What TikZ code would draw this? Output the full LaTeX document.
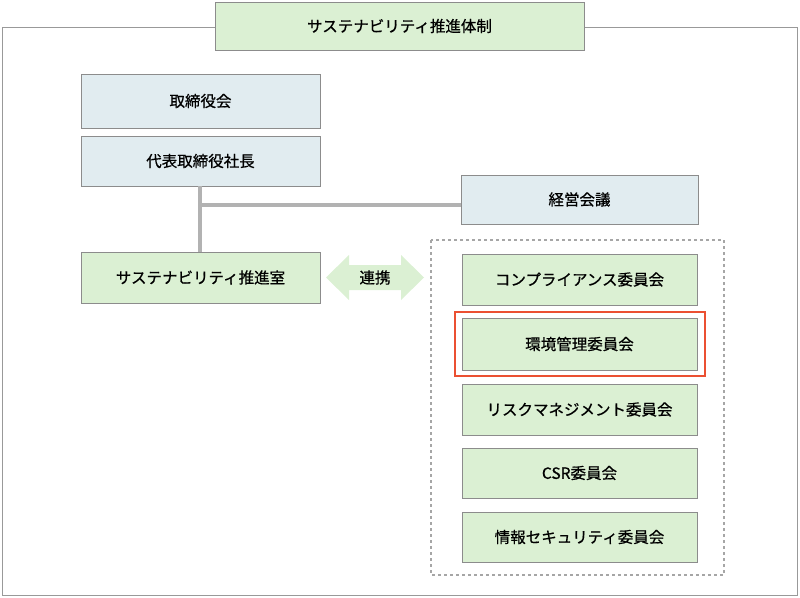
\documentclass[tikz,border=0pt]{standalone}
\usepackage{fontspec}
\setmainfont{Noto Sans CJK JP}[FakeBold=0.6]
\begin{document}
\begin{tikzpicture}[x=1pt,y=-1pt,
  box/.style={draw=black!45,line width=0.8pt,minimum height=50pt,inner sep=0pt,font=\fontsize{15.5}{18}\selectfont},
  gbox/.style={box,fill={rgb,255:red,219;green,240;blue,211}},
  bbox/.style={box,fill={rgb,255:red,225;green,236;blue,240}},
  conn/.style={draw=black!30,line width=3.5pt}]
\useasboundingbox (0,0) rectangle (800,597);
\draw[black!40,line width=0.8pt] (2,27) rectangle (797,595);
\node[gbox,minimum width=369pt,minimum height=48pt] (title) at (399.5,26) {サステナビリティ推進体制};
\node[bbox,minimum width=239pt,minimum height=54pt] (board) at (200.5,101) {取締役会};
\node[bbox,minimum width=239pt] (pres) at (200.5,161) {代表取締役社長};
\node[bbox,minimum width=237pt,minimum height=49pt] (mgmt) at (579.5,199.5) {経営会議};
\node[gbox,minimum width=239pt,minimum height=51pt] (sus) at (200.5,277.5) {サステナビリティ推進室};
\coordinate (j) at (200,205);
\draw[conn] (pres.south -| j) -- (sus.north -| j);
\draw[conn] (j) -- (mgmt.west |- j);
\fill[fill={rgb,255:red,219;green,240;blue,211}] (326,277.5) -- (349,255) -- (349,265) -- (401,265) -- (401,255) -- (424,277.5) -- (401,300) -- (401,290) -- (349,290) -- (349,300) -- cycle;
\node[font=\fontsize{15.5}{18}\selectfont] (link) at (375,277.5) {連携};
\draw[black!35,line width=1.5pt,dash pattern=on 3pt off 3pt] (431,240) rectangle (724,575);
\node[gbox,minimum width=235pt,minimum height=51pt] (c1) at (579.5,279.5) {コンプライアンス委員会};
\node[gbox,minimum width=235pt,minimum height=52pt] (c2) at (579.5,344) {環境管理委員会};
\node[draw={rgb,255:red,235;green,80;blue,50},line width=1.6pt,minimum width=250pt,minimum height=64pt,inner sep=0pt] (hl) at (580,344) {};
\node[gbox,minimum width=235pt,minimum height=51pt] (c3) at (579.5,409.5) {リスクマネジメント委員会};
\node[gbox,minimum width=235pt,minimum height=50pt] (c4) at (579.5,473) {CSR委員会};
\node[gbox,minimum width=235pt,minimum height=50pt] (c5) at (579.5,537) {情報セキュリティ委員会};
\end{tikzpicture}
\end{document}
